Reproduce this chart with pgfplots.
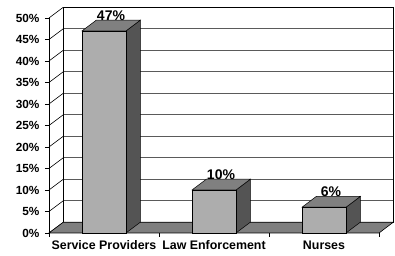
\documentclass[border=0pt]{standalone}
\usepackage{fontspec}
\setmainfont{Liberation Sans}
\usepackage{pgfplots}
\pgfplotsset{compat=1.18}
\definecolor{barfront}{HTML}{ADADAD}
\definecolor{barside}{HTML}{545454}
\definecolor{bartop}{HTML}{808080}
\definecolor{floorc}{HTML}{7F7F7F}
\definecolor{gridc}{HTML}{5A5A5A}
\begin{document}
\begin{tikzpicture}
% back wall
\begin{axis}[
  at={(14.3pt,10.75pt)}, anchor=south west,
  x=110pt, y=4.3pt,
  xmin=-0.5, xmax=2.5, ymin=0, ymax=50,
  axis line style={black, line width=1.2pt},
  xtick=\empty, ytick={5,10,...,45}, yticklabels={},
  major tick length=0pt,
  ymajorgrids, grid style={gridc, line width=1pt},
]
\end{axis}
% front: floor, left wall, bars, ticks
\begin{axis}[
  at={(0,0)}, anchor=south west,
  x=110pt, y=4.3pt,
  xmin=-0.5, xmax=2.5, ymin=0, ymax=50,
  clip=false,
  axis x line*=bottom, axis y line*=left,
  axis line style={draw=none},
  tick align=outside, major tick length=4pt,
  tick style={black, line width=0.6pt},
  ytick={0,5,...,50},
  yticklabel={\pgfmathprintnumber{\tick}\%},
  yticklabel style={font=\fontsize{11.8}{13}\selectfont\bfseries, xshift=-2pt},
  xtick={-0.5,0.5,1.5,2.5}, xticklabels={},
  extra x ticks={0,1,2},
  extra x tick labels={Service Providers, Law Enforcement, Nurses},
  extra x tick style={major tick length=0pt},
  xticklabel style={font=\fontsize{12.4}{14}\selectfont\bfseries, yshift=-4pt},
  /pgf/number format/assume math mode=true,
]
% left wall diagonals
\pgfplotsinvokeforeach{0,5,10,15,20,25,30,35,40,45,50}{
  \draw[black, line width=0.6pt] (axis cs:-0.5,#1) -- ++(14.3pt,10.75pt);
}
% floor
\addplot[fill=floorc, draw=black, line width=0.6pt] coordinates {(-0.5,0) (2.5,0) (2.63,2.5) (-0.37,2.5)} -- cycle;
% front left axis line
\addplot[black, line width=0.8pt] coordinates {(-0.5,0) (-0.5,50)};
% side faces
\addplot[fill=barside, draw=black, line width=0.5pt] coordinates {(0.2,0) (0.33,2.5) (0.33,49.5) (0.2,47)} -- cycle;
\addplot[fill=barside, draw=black, line width=0.5pt] coordinates {(1.2,0) (1.33,2.5) (1.33,12.5) (1.2,10)} -- cycle;
\addplot[fill=barside, draw=black, line width=0.5pt] coordinates {(2.2,0) (2.33,2.5) (2.33,8.5) (2.2,6)} -- cycle;
% top faces
\addplot[fill=bartop, draw=black, line width=0.5pt] coordinates {(-0.2,47) (0.2,47) (0.33,49.5) (-0.07,49.5)} -- cycle;
\addplot[fill=bartop, draw=black, line width=0.5pt] coordinates {(0.8,10) (1.2,10) (1.33,12.5) (0.93,12.5)} -- cycle;
\addplot[fill=bartop, draw=black, line width=0.5pt] coordinates {(1.8,6) (2.2,6) (2.33,8.5) (1.93,8.5)} -- cycle;
% front faces
\addplot[ybar, bar width=0.4, fill=barfront, draw=black, line width=0.5pt,
  nodes near coords={\pgfmathprintnumber{\pgfplotspointmeta}\%},
  every node near coord/.style={anchor=base, xshift=7pt, yshift=10.75pt,
    font=\fontsize{14}{16}\selectfont\bfseries, text=black}]
  coordinates {(0,47) (1,10) (2,6)};
\end{axis}
\pgfresetboundingbox
\path[use as bounding box] (-49pt,-23pt) rectangle (346pt,233pt);
\end{tikzpicture}
\end{document}
